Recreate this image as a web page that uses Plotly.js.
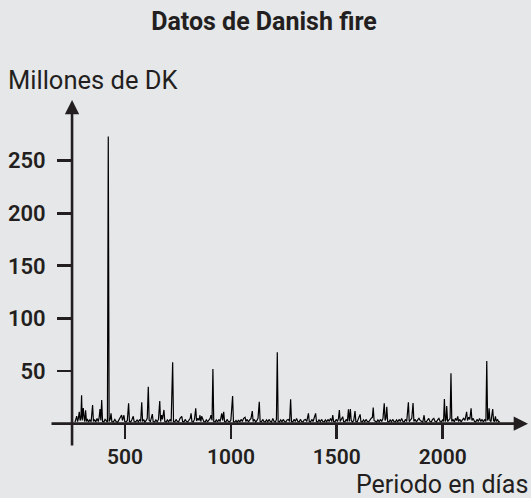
<!DOCTYPE html>
<html>
<head>
<meta charset="utf-8">
<script src="https://cdn.plot.ly/plotly-3.0.1.min.js"></script>
<style>
  html, body { margin: 0; padding: 0; background: #e6e7e9; }
  #chart { width: 531px; height: 498px; }
</style>
</head>
<body>
<div id="chart"></div>
<script>
// Period (days) and losses (millions of DKK)
const days = [
  264,268,272,276,280,284,288,292,295,298,303,307,310,314,318,322,328,334,340,347,351,356,362,368,374,378,382,386,390,394,
  400,406,412,417,421,425,430,434,438,445,452,458,465,471,477,484,488,495,499,505,511,517,521,527,533,539,543,550,557,563,
  569,574,579,583,588,594,600,605,610,614,620,625,629,633,640,646,652,658,664,668,673,677,684,688,694,700,706,712,718,725,
  729,735,741,747,753,760,768,772,778,784,790,796,802,808,812,816,822,828,834,838,844,850,854,858,862,866,872,878,884,890,
  896,902,906,911,915,919,925,931,937,943,949,957,961,966,970,976,982,988,994,1000,1008,1012,1018,1024,1030,1036,1042,1048,1054,1060,
  1067,1071,1077,1083,1089,1095,1101,1105,1111,1117,1123,1128,1134,1138,1144,1150,1156,1162,1168,1174,1180,1186,1192,1198,1204,1210,1215,1219,1223,1229,
  1235,1241,1247,1253,1259,1265,1271,1277,1282,1286,1292,1298,1304,1310,1316,1322,1328,1334,1340,1346,1352,1358,1366,1370,1376,1382,1388,1394,1400,1404,
  1410,1416,1422,1428,1434,1440,1446,1452,1458,1464,1470,1476,1481,1485,1491,1497,1503,1508,1512,1516,1522,1528,1532,1538,1544,1550,1555,1559,1564,1568,
  1574,1580,1586,1590,1596,1602,1610,1614,1620,1626,1632,1638,1644,1650,1656,1662,1668,1672,1676,1682,1688,1694,1700,1706,1712,1718,1724,1728,1732,1736,
  1740,1746,1752,1758,1764,1770,1776,1782,1788,1794,1800,1806,1812,1818,1824,1830,1838,1842,1848,1854,1860,1864,1870,1876,1882,1888,1894,1900,1906,1912,
  1916,1922,1928,1934,1940,1946,1952,1958,1964,1970,1976,1982,1988,1994,2000,2004,2008,2012,2016,2019,2023,2030,2035,2039,2043,2049,2055,2060,2066,2071,
  2075,2081,2087,2093,2099,2105,2109,2113,2117,2123,2128,2134,2138,2144,2150,2156,2162,2168,2174,2180,2186,2192,2198,2204,2208,2212,2216,2219,2223,2228,
  2236,2240,2244,2249,2253,2259,2264,2270
];
const losses = [
  1.5,4,7.2,2,5,11.3,3,6,27,3,14.8,5,2,12.6,2,4.5,1.5,3.5,1.8,17.7,2,4,1.5,5,2,6,13.9,3,22.4,2,
  1.5,4,2,1.5,273,2,4,9.8,2,1.5,4,2,1.2,3.5,5,8.2,3,8,2,1.5,3,19.3,2,1.5,4,7,2,1.5,3.5,1.8,
  4,2,20.2,2,4,1.5,3,5,35.1,3,2,6,9,2,1.5,3.5,1.8,4,21.5,2,8,4,13,2,1.5,3.5,1.8,4,2,58.3,
  2,1.5,4,2,1.5,5,7,2,1.5,4,2,1.5,3.5,5,9.9,2,1.5,4,14.5,2.5,5,3,8,2,7,4,2,1.5,3.5,1.8,
  4,5,8,3,51.9,2,1.5,3.5,1.5,4,2,9.8,3,11.3,2,1.5,4,2,1.5,3.5,26.2,2,1.5,3,1.2,3.5,1.5,4,2,5,
  6,2,4,1.5,3.5,5,12,2,4,1.5,3,5,20.8,2,1.5,4,2,1.5,3.5,1.8,4,2,1.5,5,2,1.5,4,67.8,2,1.5,
  3.5,1.8,4,2,1.5,3.5,4,2,23.1,2,1.5,4,2,5,2,1.5,4,2,1.5,3.5,4,2,9.8,2,1.5,4,2,5,9.8,2,
  1.5,3.5,1.8,4,2,1.5,3.5,1.8,4,2,5,2,8.2,2,1.5,4,2,5,12.9,2,4,6.6,2,1.5,4,2,13.6,2,13.9,3,
  1.5,3,12,2,1.5,4,8.8,2,1.5,3.5,1.8,4,2,1.5,3.5,5,6,15.2,3,2,1.5,3.5,1.8,4,2,5,19.3,3,5,16.1,
  2,1.5,3.5,1.8,4,2,1.5,3.5,1.8,4,2,5,2,1.5,4,2,20.2,2,4,5,19.6,2,4,1.5,3.5,5,3,2,1.5,8,
  2,1.5,4,5,2,1.5,4,5,2,1.5,3.5,5,2,1.5,4,2,23.4,2,4,16.7,2,4,5,47.8,2,4,1.5,5,3,7,
  2,4,1.5,3.5,5,3,8,11.3,3,6,4,14.5,3,5,2,1.5,4,2,5,2,4,1.5,4,2,59.5,3,5,14.5,3,2,
  13.9,3,2,7,2,4,1.5,2
];
const xTickVals = [500, 1000, 1500, 2000];
const xTickText = ['500', '1000', '1500', '2000'];
const yTickVals = [50, 100, 150, 200, 250];
const yTickText = ['50', '100', '150', '200', '250'];

const xRange = [145.9, 2402.7];
const yRange = [-22.2, 307.6];
const yAxisAt = 250;   // y axis crosses x at this day
const ink = '#231f20';
const fontFam = 'Roboto, "Open Sans", sans-serif';

const xPos = (0 - yRange[0]) / (yRange[1] - yRange[0]);
const yPos = (yAxisAt - xRange[0]) / (xRange[1] - xRange[0]);

const trace = {
  x: days, y: losses, type: 'scatter', mode: 'lines',
  line: { color: '#000000', width: 1.2 }, hoverinfo: 'skip'
};

const layout = {
  width: 531, height: 498,
  paper_bgcolor: '#e6e7e9', plot_bgcolor: '#e6e7e9',
  margin: { l: 50, r: 3, t: 100, b: 51 },
  showlegend: false,
  title: {
    text: '<b>Datos de Danish fire</b>',
    font: { family: fontFam, size: 25, color: ink },
    x: 264 / 531, xref: 'container', xanchor: 'center',
    y: 1 - 21 / 498, yref: 'container', yanchor: 'middle'
  },
  xaxis: {
    range: xRange, anchor: 'free', position: xPos,
    showgrid: false, zeroline: false, showline: false,
    tickmode: 'array', tickvals: xTickVals, ticktext: xTickText,
    ticks: 'outside', ticklen: 14, tickwidth: 2.8, tickcolor: ink,
    tickfont: { family: fontFam, size: 21, color: ink, weight: 600 }
  },
  yaxis: {
    range: yRange, anchor: 'free', position: yPos,
    showgrid: false, zeroline: false, showline: false,
    tickmode: 'array', tickvals: yTickVals, ticktext: yTickText,
    ticks: 'outside', ticklen: 15, tickwidth: 2.8, tickcolor: ink,
    ticklabelstandoff: 7,
    tickfont: { family: fontFam, size: 22, color: ink, weight: 600 }
  },
  annotations: [
    { x: xRange[1], y: 0, ax: xRange[0], ay: 0, xref: 'x', yref: 'y', axref: 'x', ayref: 'y',
      showarrow: true, arrowhead: 2, arrowsize: 1.1, arrowwidth: 2.6, arrowcolor: ink, text: '' },
    { x: yAxisAt, y: yRange[1], ax: yAxisAt, ay: yRange[0], xref: 'x', yref: 'y', axref: 'x', ayref: 'y',
      showarrow: true, arrowhead: 2, arrowsize: 1.1, arrowwidth: 2.6, arrowcolor: ink, text: '' },
    { text: 'Millones de DK', xref: 'paper', yref: 'paper',
      x: (6 - 50) / 478, y: (447 - 80) / 347, xanchor: 'left', yanchor: 'middle',
      showarrow: false, font: { family: fontFam, size: 25.5, color: ink } },
    { text: 'Periodo en días', xref: 'paper', yref: 'paper',
      x: (530 - 50) / 478, y: (447 - 484) / 347, xanchor: 'right', yanchor: 'middle',
      showarrow: false, font: { family: fontFam, size: 25, color: ink } }
  ]
};

Plotly.newPlot('chart', [trace], layout, { displayModeBar: false, staticPlot: true });
</script>
</body>
</html>
